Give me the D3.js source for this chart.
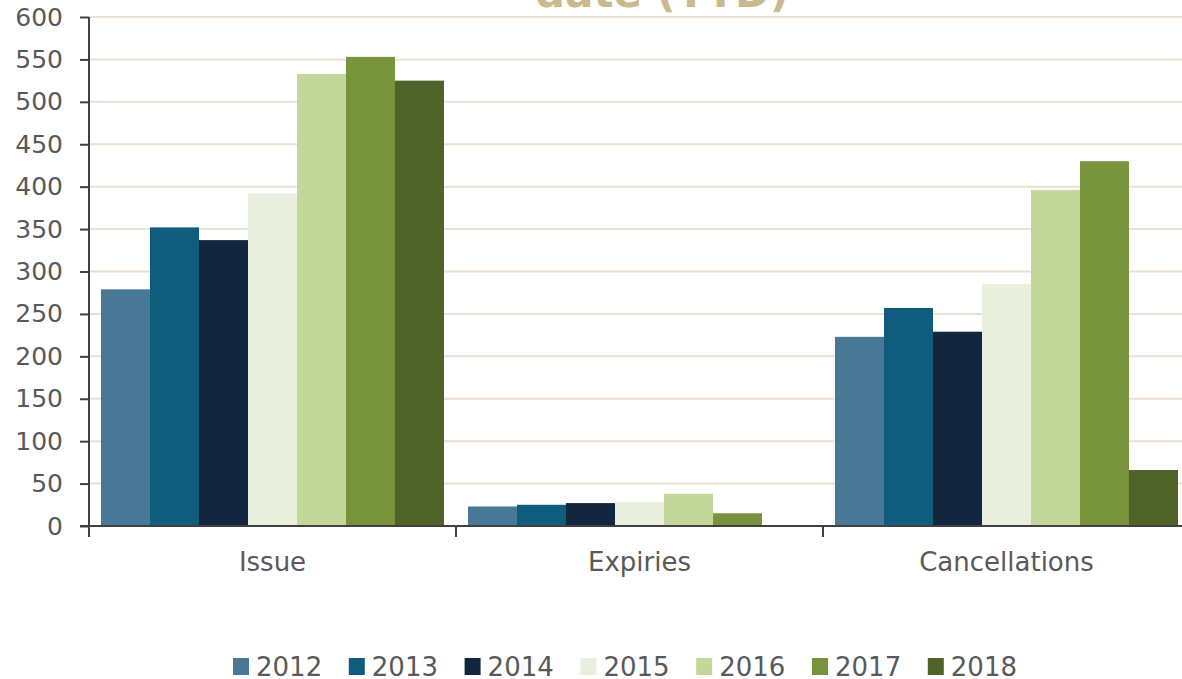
<!DOCTYPE html>
<html>
<head>
<meta charset="utf-8">
<script src="https://cdn.jsdelivr.net/npm/d3@7"></script>
<style>
  html, body { margin: 0; padding: 0; background: #fff; }
  svg { display: block; font-family: "DejaVu Sans", Verdana, sans-serif; }
</style>
</head>
<body>
<svg id="chart" width="1182" height="679"></svg>
<script>
var categories = ["Issue", "Expiries", "Cancellations"];
var years = ["2012", "2013", "2014", "2015", "2016", "2017", "2018"];
var values2012 = [279, 23, 223];
var values2013 = [352, 25, 257];
var values2014 = [337, 27, 229];
var values2015 = [392, 28, 285];
var values2016 = [533, 38, 396];
var values2017 = [553, 15, 430];
var values2018 = [525, 0, 66];
var yTicks = [0, 50, 100, 150, 200, 250, 300, 350, 400, 450, 500, 550, 600];
var colors = ["#487895", "#0f5c7c", "#12263f", "#e8efdc", "#c4d79b", "#77933c", "#4f6228"];

var series = [values2012, values2013, values2014, values2015, values2016, values2017, values2018];

var svg = d3.select("#chart");
var plotLeft = 89, plotRight = 1190, plotTop = 17, plotBottom = 526;

var x = d3.scaleBand().domain(categories).range([plotLeft, plotRight]);
var xi = d3.scaleBand().domain(years).range([0, x.bandwidth()]).paddingOuter(0.245);
var y = d3.scaleLinear().domain([0, 600]).range([plotBottom, plotTop]);

// title (cut off at top)
svg.append("text")
    .attr("x", 662)
    .attr("y", 7)
    .attr("text-anchor", "middle")
    .attr("font-size", 42)
    .attr("font-weight", "bold")
    .attr("fill", "#cbb98e")
    .text("date (YTD)");

// gridlines
svg.append("g")
    .selectAll("line")
    .data(yTicks.filter(function (d) { return d > 0; }))
    .join("line")
    .attr("x1", plotLeft)
    .attr("x2", plotRight)
    .attr("y1", function (d) { return y(d); })
    .attr("y2", function (d) { return y(d); })
    .attr("stroke", "#e9e1d2")
    .attr("stroke-width", 2);

// bars
var groups = svg.append("g")
    .selectAll("g")
    .data(years)
    .join("g")
    .attr("fill", function (d, i) { return colors[i]; });

groups.selectAll("rect")
    .data(function (d, i) {
        return categories.map(function (c, j) { return {cat: c, year: d, value: series[i][j]}; });
    })
    .join("rect")
    .attr("x", function (d) { return x(d.cat) + xi(d.year); })
    .attr("width", xi.bandwidth())
    .attr("y", function (d) { return y(d.value); })
    .attr("height", function (d) { return plotBottom - y(d.value); });

// y axis
var yAxis = svg.append("g")
    .attr("transform", "translate(" + plotLeft + ",0)")
    .call(d3.axisLeft(y).tickValues(yTicks).tickSize(9).tickPadding(17));
yAxis.select(".domain")
    .attr("d", "M0," + plotTop + "V" + (plotBottom + 9))
    .attr("stroke", "#404040")
    .attr("stroke-width", 2);
yAxis.selectAll(".tick line").attr("stroke", "#404040").attr("stroke-width", 2);
yAxis.selectAll("text")
    .attr("font-size", 25)
    .attr("font-family", "DejaVu Sans, Verdana, sans-serif")
    .attr("fill", "#595959");

// x axis
var xAxis = svg.append("g")
    .attr("transform", "translate(0," + plotBottom + ")");
xAxis.append("line")
    .attr("x1", plotLeft - 9)
    .attr("x2", plotRight)
    .attr("stroke", "#404040")
    .attr("stroke-width", 2);
xAxis.selectAll("line.tick")
    .data(categories)
    .join("line")
    .attr("class", "tick")
    .attr("x1", function (d) { return x(d); })
    .attr("x2", function (d) { return x(d); })
    .attr("y1", 0)
    .attr("y2", 11)
    .attr("stroke", "#404040")
    .attr("stroke-width", 2);
xAxis.selectAll("text")
    .data(categories)
    .join("text")
    .attr("x", function (d) { return x(d) + x.bandwidth() / 2; })
    .attr("y", 45)
    .attr("text-anchor", "middle")
    .attr("font-size", 26)
    .attr("fill", "#595959")
    .text(function (d) { return d; });

// legend
var legend = svg.append("g")
    .selectAll("g")
    .data(years)
    .join("g")
    .attr("transform", function (d, i) { return "translate(" + (233 + i * 115.8) + ",658)"; });
legend.append("rect")
    .attr("width", 16)
    .attr("height", 17)
    .attr("fill", function (d, i) { return colors[i]; });
legend.append("text")
    .attr("x", 23)
    .attr("y", 18)
    .attr("font-size", 26)
    .attr("fill", "#595959")
    .text(function (d) { return d; });
</script>
</body>
</html>
